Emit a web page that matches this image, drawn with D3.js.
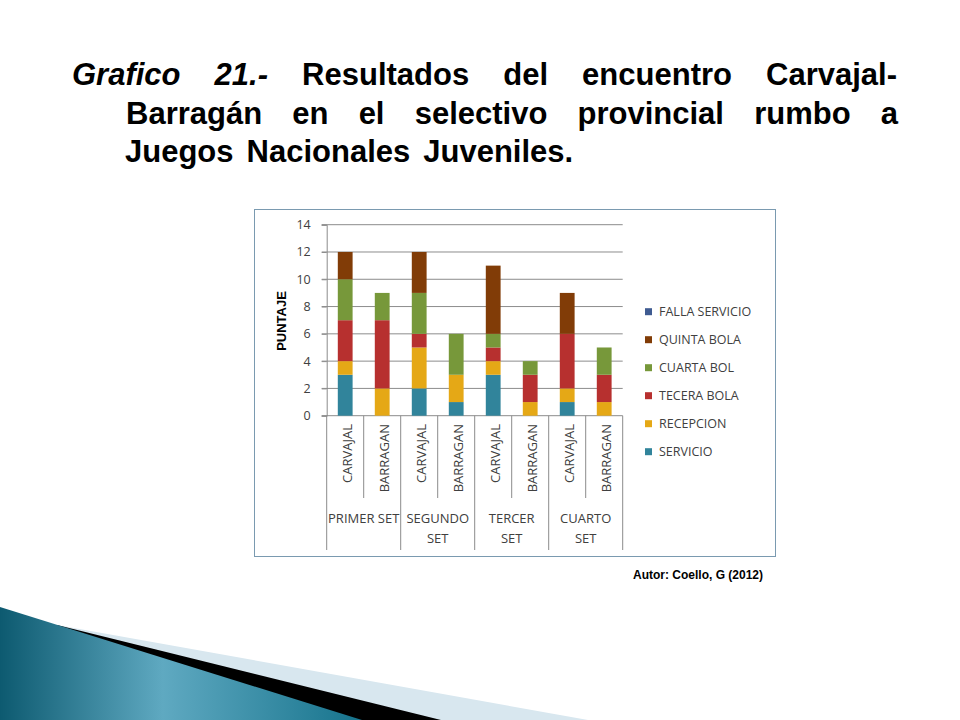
<!DOCTYPE html>
<html>
<head>
<meta charset="utf-8">
<script src="https://cdn.jsdelivr.net/npm/d3@7"></script>
<style>
  body { margin: 0; background: #fff; }
  svg { display: block; }
</style>
</head>
<body>
<svg id="chart" width="960" height="720"></svg>
<script>
// data
const players = ["CARVAJAL", "BARRAGAN", "CARVAJAL", "BARRAGAN", "CARVAJAL", "BARRAGAN", "CARVAJAL", "BARRAGAN"];
const sets = [["PRIMER SET"], ["SEGUNDO", "SET"], ["TERCER", "SET"], ["CUARTO", "SET"]];
const seriesNames = ["SERVICIO", "RECEPCION", "TECERA BOLA", "CUARTA BOL", "QUINTA BOLA", "FALLA SERVICIO"];
const servicio = [3, 0, 2, 1, 3, 0, 1, 0];
const recepcion = [1, 2, 3, 2, 1, 1, 1, 1];
const terceraBola = [3, 5, 1, 0, 1, 2, 4, 2];
const cuartaBola = [3, 2, 3, 3, 1, 1, 0, 2];
const quintaBola = [2, 0, 3, 0, 5, 0, 3, 0];
const fallaServicio = [0, 0, 0, 0, 0, 0, 0, 0];
const yTicks = [0, 2, 4, 6, 8, 10, 12, 14];
const colors = ["#31849b", "#e5a816", "#b7302f", "#77983a", "#813c07", "#3f5b91"];

const titleLines = [
  [["Grafico", true], ["21.-", true], ["Resultados"], ["del"], ["encuentro"], ["Carvajal-"]],
  [["Barragán"], ["en"], ["el"], ["selectivo"], ["provincial"], ["rumbo"], ["a"]],
  [["Juegos"], ["Nacionales"], ["Juveniles."]]
];

const svg = d3.select("#chart");

// ---- bottom decoration (slide theme)
const defs = svg.append("defs");
const grad = defs.append("linearGradient")
  .attr("id", "teal")
  .attr("x1", 0).attr("y1", 0).attr("x2", 1).attr("y2", 0);
grad.append("stop").attr("offset", "0%").attr("stop-color", "#0d5a70");
grad.append("stop").attr("offset", "45%").attr("stop-color", "#5fa9c1");
grad.append("stop").attr("offset", "100%").attr("stop-color", "#16738c");

svg.append("path").attr("d", "M57,625 L588,720 L0,720 Z").attr("fill", "#d8e7ef");
svg.append("path").attr("d", "M57,625 L441,720 L0,720 Z").attr("fill", "#000");
svg.append("path").attr("d", "M0,607 L362,720 L0,720 Z").attr("fill", "url(#teal)");

// ---- title, justified by hand
const titleFont = "'Liberation Sans', Arial, sans-serif";
const lineBox = [[72, 897, 85], [126, 898, 124], [125, null, 162]];
titleLines.forEach((words, li) => {
  const [x0, x1, yb] = lineBox[li];
  const g = svg.append("g");
  const nodes = words.map(([w, it]) =>
    g.append("text")
      .attr("y", yb)
      .attr("font-family", titleFont)
      .attr("font-size", 31)
      .attr("font-weight", "bold")
      .attr("font-style", it ? "italic" : "normal")
      .attr("fill", "#000")
      .text(w)
  );
  const widths = nodes.map(n => n.node().getComputedTextLength());
  const gap = x1 == null ? 13 : (x1 - x0 - d3.sum(widths)) / (words.length - 1);
  let x = x0;
  nodes.forEach((n, i) => { n.attr("x", x); x += widths[i] + gap; });
});

// ---- chart frame
svg.append("rect")
  .attr("x", 254.5).attr("y", 209.5)
  .attr("width", 521).attr("height", 347)
  .attr("fill", "#fff")
  .attr("stroke", "#7a9ab0")
  .attr("stroke-width", 1);

const plot = { left: 326.7, right: 622.7, top: 224.7, bottom: 415.7 };
const chartFont = "'Open Sans', sans-serif";
const txt = "#404040";
const gridCol = "#8c8c8c";

const rows = players.map((p, i) => ({
  idx: i,
  "SERVICIO": servicio[i],
  "RECEPCION": recepcion[i],
  "TECERA BOLA": terceraBola[i],
  "CUARTA BOL": cuartaBola[i],
  "QUINTA BOLA": quintaBola[i],
  "FALLA SERVICIO": fallaServicio[i]
}));

const x = d3.scaleBand()
  .domain(d3.range(players.length))
  .range([plot.left, plot.right])
  .paddingInner(0.6)
  .paddingOuter(0.3);

const y = d3.scaleLinear()
  .domain([0, 14])
  .range([plot.bottom, plot.top]);

const color = d3.scaleOrdinal().domain(seriesNames).range(colors);

// gridlines
svg.append("g")
  .selectAll("line")
  .data(yTicks)
  .join("line")
  .attr("x1", plot.left - 5)
  .attr("x2", plot.right)
  .attr("y1", d => y(d))
  .attr("y2", d => y(d))
  .attr("stroke", gridCol)
  .attr("stroke-width", 1);

// y axis
svg.append("g")
  .attr("transform", `translate(${plot.left},0)`)
  .call(d3.axisLeft(y).tickValues(yTicks).tickSize(5).tickPadding(11))
  .call(g => g.select(".domain").attr("stroke", gridCol))
  .call(g => g.selectAll(".tick line").attr("stroke", gridCol))
  .call(g => g.selectAll(".tick text")
    .attr("font-family", chartFont)
    .attr("font-size", 12.5)
    .attr("fill", txt));

// y title
svg.append("text")
  .attr("transform", "translate(286,321) rotate(-90)")
  .attr("text-anchor", "middle")
  .attr("font-family", "'Liberation Sans', Arial, sans-serif")
  .attr("font-size", 13)
  .attr("font-weight", "bold")
  .attr("fill", "#000")
  .text("PUNTAJE");

// stacked bars
const stacked = d3.stack().keys(seriesNames)(rows);
svg.append("g")
  .selectAll("g")
  .data(stacked)
  .join("g")
  .attr("fill", d => color(d.key))
  .selectAll("rect")
  .data(d => d)
  .join("rect")
  .attr("x", d => x(d.data.idx))
  .attr("width", x.bandwidth())
  .attr("y", d => y(d[1]))
  .attr("height", d => y(d[0]) - y(d[1]));

// category axis: separators + rotated labels
const step = x.step();
const x0 = x.range()[0];
const sepG = svg.append("g");
d3.range(players.length + 1).forEach(i => {
  const full = i % 2 === 0;
  sepG.append("line")
    .attr("x1", x0 + i * step).attr("x2", x0 + i * step)
    .attr("y1", plot.bottom)
    .attr("y2", full ? 550 : 498)
    .attr("stroke", gridCol);
});

svg.append("g")
  .selectAll("text")
  .data(players)
  .join("text")
  .attr("transform", (d, i) => `translate(${x(i) + x.bandwidth() / 2 + 2},424) rotate(-90)`)
  .attr("dy", "0.35em")
  .attr("text-anchor", "end")
  .attr("font-family", chartFont)
  .attr("font-size", 13)
  .attr("fill", txt)
  .text(d => d);

svg.append("g")
  .selectAll("text")
  .data(sets)
  .join("text")
  .attr("x", (d, i) => x0 + (i * 2 + 1) * step)
  .attr("y", 523)
  .attr("text-anchor", "middle")
  .attr("font-family", chartFont)
  .attr("font-size", 13)
  .attr("fill", txt)
  .selectAll("tspan")
  .data(d => d)
  .join("tspan")
  .attr("x", function () { return d3.select(this.parentNode).attr("x"); })
  .attr("dy", (d, i) => i === 0 ? 0 : 20)
  .text(d => d);

// legend (top item = last series)
const legend = svg.append("g")
  .selectAll("g")
  .data(seriesNames.slice().reverse())
  .join("g")
  .attr("transform", (d, i) => `translate(645,${311.7 + i * 28})`);
legend.append("rect")
  .attr("x", 0).attr("y", -3.5)
  .attr("width", 7).attr("height", 7)
  .attr("fill", d => color(d));
legend.append("text")
  .attr("x", 14)
  .attr("dy", "0.35em")
  .attr("font-family", chartFont)
  .attr("font-size", 12.5)
  .attr("fill", txt)
  .text(d => d);

// source note
svg.append("text")
  .attr("x", 633)
  .attr("y", 579)
  .attr("font-family", "'Liberation Sans Narrow', 'Liberation Sans', Arial, sans-serif")
  .attr("font-size", 12)
  .attr("font-weight", "bold")
  .attr("fill", "#000")
  .text("Autor: Coello, G (2012)");
</script>
</body>
</html>
